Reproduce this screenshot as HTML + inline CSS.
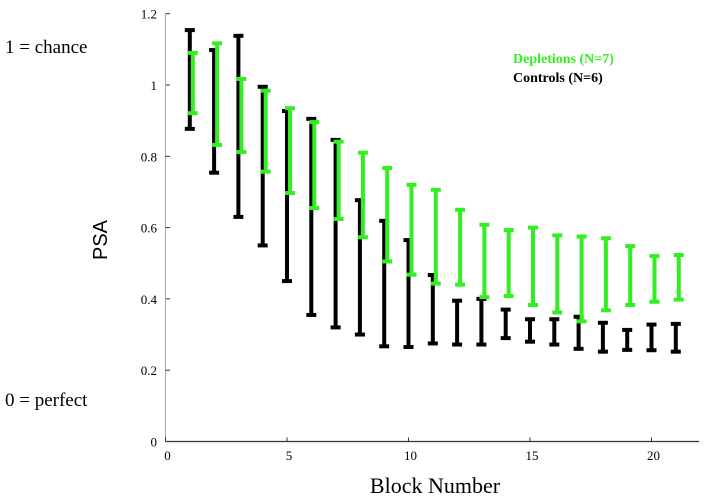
<!DOCTYPE html>
<html><head><meta charset="utf-8"><style>
body{margin:0;background:#fff}
svg text{font-family:"Liberation Serif",serif}
</style></head><body>
<svg id="c" width="708" height="498" viewBox="0 0 708 498">
<text x="5" y="53" font-size="19">1 = chance</text>
<text x="5" y="406" font-size="19">0 = perfect</text>
<text transform="translate(107,240) rotate(-90)" text-anchor="middle" font-size="20" style="font-family:'Liberation Sans',sans-serif">PSA</text>
<text x="435" y="493" text-anchor="middle" font-size="22">Block Number</text>
<text x="513" y="63" font-size="14" font-weight="bold" fill="#33ee22">Depletions (N=7)</text>
<text x="513" y="82" font-size="14" font-weight="bold" fill="#000">Controls (N=6)</text>
<g id="axes"></g><g id="marks"></g>
</svg>
<script>
const blocks=[1,2,3,4,5,6,7,8,9,10,11,12,13,14,15,16,17,18,19,20,21];
const ctrlLo=[0.877,0.754,0.63,0.55,0.45,0.355,0.32,0.30,0.267,0.265,0.275,0.272,0.272,0.29,0.28,0.272,0.26,0.252,0.257,0.256,0.252];
const ctrlHi=[1.154,1.098,1.138,0.995,0.927,0.905,0.846,0.677,0.619,0.565,0.467,0.395,0.40,0.37,0.343,0.343,0.35,0.333,0.313,0.328,0.33];
const depLo=[0.921,0.832,0.812,0.757,0.697,0.655,0.624,0.573,0.505,0.468,0.443,0.44,0.405,0.408,0.383,0.362,0.337,0.368,0.383,0.392,0.398];
const depHi=[1.09,1.117,1.017,0.984,0.935,0.896,0.841,0.81,0.767,0.72,0.706,0.65,0.608,0.593,0.60,0.578,0.575,0.57,0.548,0.52,0.523];
const xTicks=[0,5,10,15,20];
const yTicks=[0,0.2,0.4,0.6,0.8,1,1.2];
const yTickLabels=["0","0.2","0.4","0.6","0.8","1","1.2"];
const NS="http://www.w3.org/2000/svg";
const X=v=>165.5+24.3*v, Y=v=>441.5-356.5*v;
function mk(p,t,a){const e=document.createElementNS(NS,t);for(const k in a)e.setAttribute(k,a[k]);p.appendChild(e);return e;}
const ax=document.getElementById('axes'),mg=document.getElementById('marks');
let e=mk(ax,'line',{x1:165.5,y1:Y(0),x2:699,y2:Y(0),stroke:'#333','stroke-width':1.2});


e=mk(ax,'line',{x1:165.5,y1:Y(0),x2:165.5,y2:Y(1.2),stroke:'#555','stroke-width':1,'stroke-dasharray':'1,1'});


xTicks.forEach(t=>{
 mk(ax,'line',{x1:X(t),y1:Y(0),x2:X(t),y2:Y(0)-4,stroke:'#333'});
 const tx=mk(ax,'text',{x:X(t)+2,y:460,'text-anchor':'middle','font-size':13});tx.textContent=t;
 
 
});
yTicks.forEach((t,i)=>{
 mk(ax,'line',{x1:165.5,y1:Y(t),x2:170,y2:Y(t),stroke:'#333'});
 const tx=mk(ax,'text',{x:157,y:Y(t)+5,'text-anchor':'end','font-size':13});tx.textContent=yTickLabels[i];
 
 
});
function bar(x,lo,hi,col,name){
 const g=mk(mg,'g',{stroke:col,'stroke-width':4});
 
 
 mk(g,'line',{x1:x,y1:Y(lo),x2:x,y2:Y(hi)});
 mk(g,'line',{x1:x-5,y1:Y(lo),x2:x+5,y2:Y(lo)});
 mk(g,'line',{x1:x-5,y1:Y(hi),x2:x+5,y2:Y(hi)});
}
blocks.forEach((b,i)=>bar(X(b),ctrlLo[i],ctrlHi[i],'#000','control-errorbar'));
blocks.forEach((b,i)=>bar(X(b)+3,depLo[i],depHi[i],'#33ee22','depletion-errorbar'));
</script>
</body></html>
